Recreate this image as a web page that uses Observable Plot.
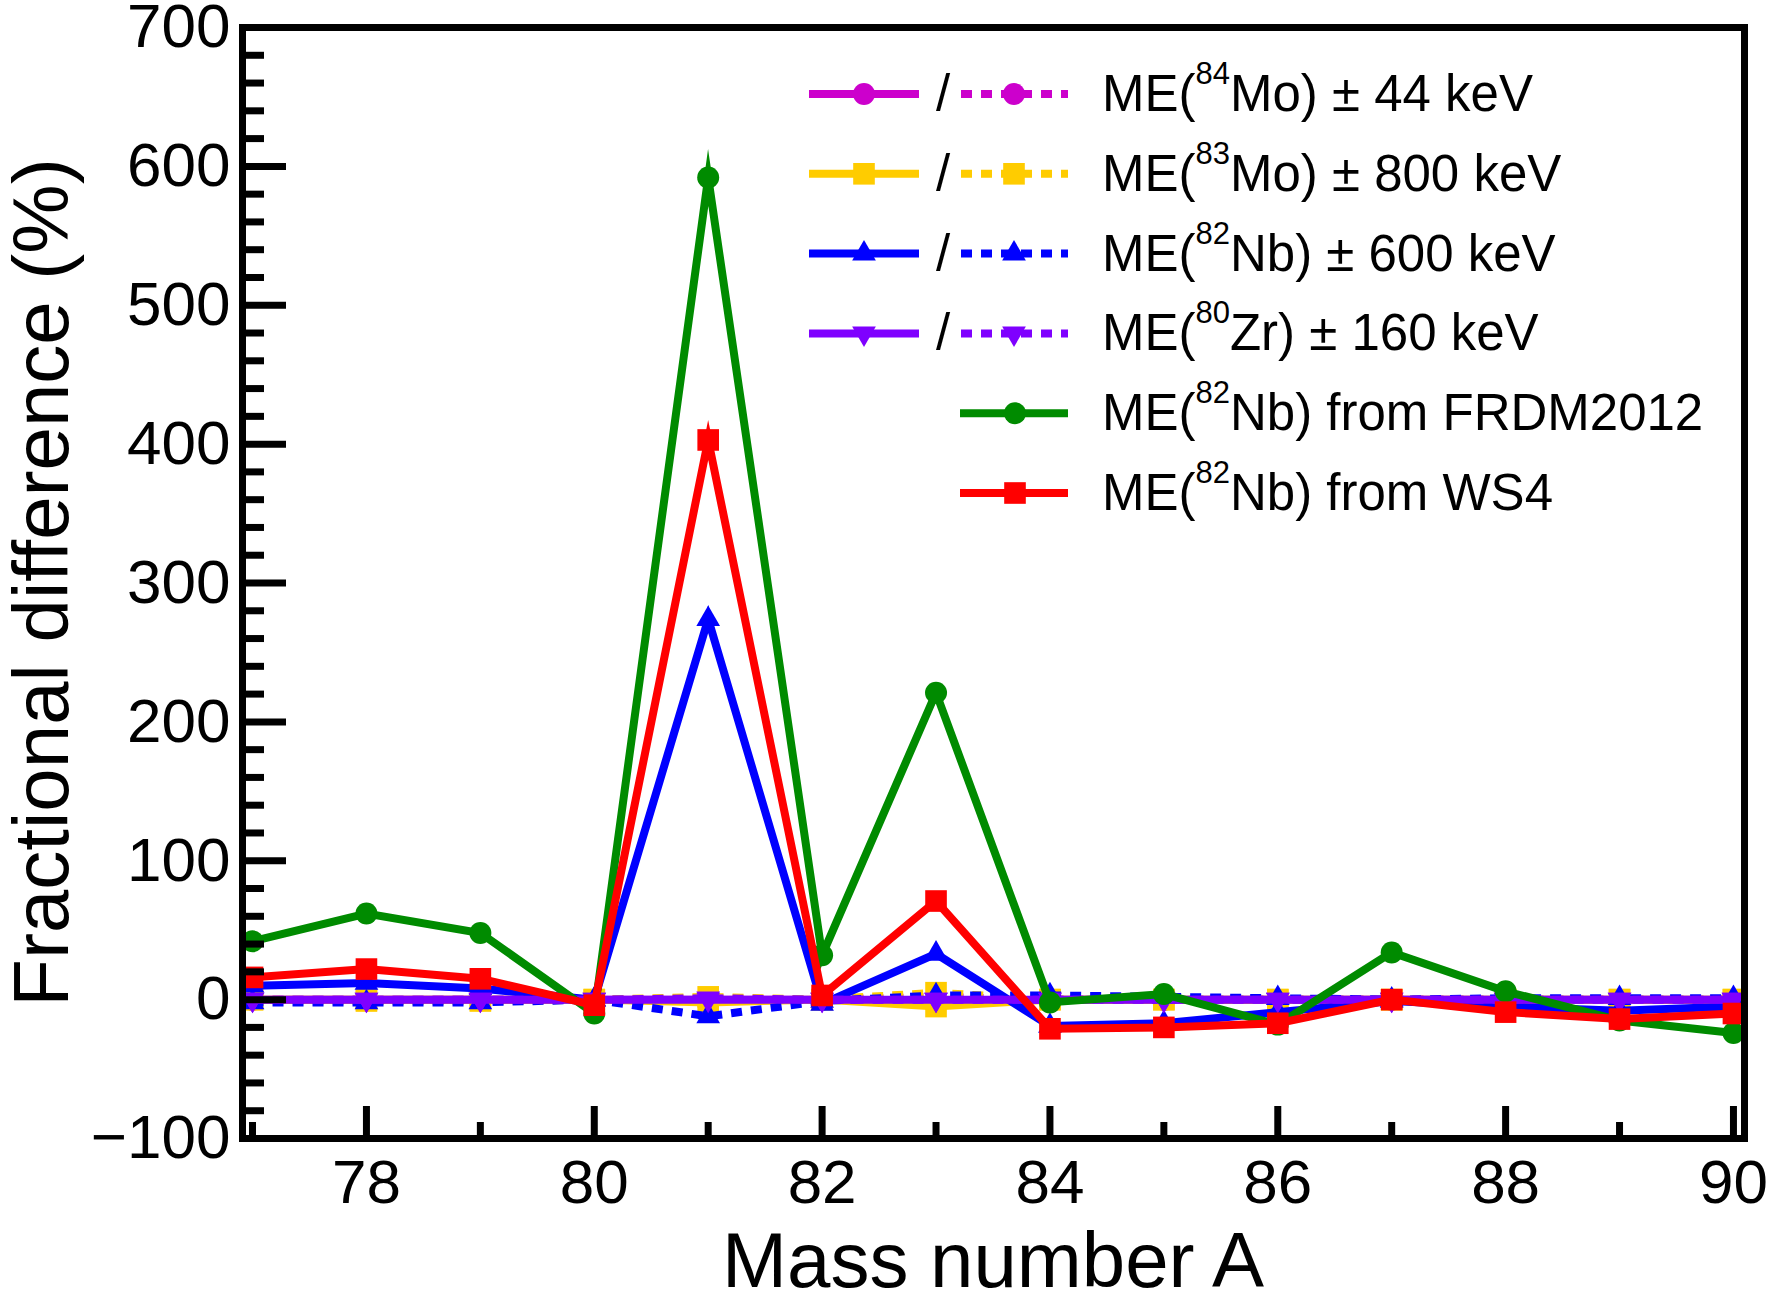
<!DOCTYPE html>
<html>
<head>
<meta charset="utf-8">
<script src="https://cdn.jsdelivr.net/npm/d3@7"></script>
<script src="https://cdn.jsdelivr.net/npm/@observablehq/plot@0.6"></script>
<style>
  body { margin: 0; background: #fff; }
  svg { display: block; }
</style>
</head>
<body>
<div id="chart"></div>
<script>
// ---------------- data ----------------
const massNumbers = [77, 78, 79, 80, 81, 82, 83, 84, 85, 86, 87, 88, 89, 90];

const mo84Plus  = [0, 0, 0, 0, 0, 0, -2, 0, 0, 0, 0, 0, 0, 0];
const mo84Minus = [0, 0, 0, 0, 0, 0, 2, 0, 0, 0, 0, 0, 0, 0];
const mo83Plus  = [0, 0, 0, 0, -2, 0, -5, 0, 0, 0, 0, 0, 0, 0];
const mo83Minus = [0, -1, -1, 0, 2, 0, 5, 0, 0, 0, 0, 0, 0, 0];
const nb82Plus  = [10, 12, 8, 0, 274, -3, 33, -19, -17, -9, -1, -5, -8, -5];
const nb82Minus = [-2, -2, -2, 0, -12, -1, 3, 3, 2, 1, 0, 1, 1, 1];
const zr80Plus  = [0, 0, 0, 0, 0, 0, 0, 0, 0, 0, 0, 0, 0, 0];
const zr80Minus = [0, 0, 0, 0, 1, 0, 0, 0, 0, 0, 0, 0, 0, 0];
const frdm2012  = [42, 62, 48, -10, 592, 32, 221, -2, 4, -18, 34, 6, -15, -24];
const ws4       = [16, 22, 15, -4, 403, 3, 71, -21, -20, -17, 0, -9, -14, -10];

const xTickLabels = [78, 80, 82, 84, 86, 88, 90];
const xMinorTicks = [77, 79, 81, 83, 85, 87, 89];
const yTickLabels = [-100, 0, 100, 200, 300, 400, 500, 600, 700];
const yMinorTicks = [-80, -60, -40, -20, 20, 40, 60, 80, 120, 140, 160, 180, 220, 240, 260, 280,
                     320, 340, 360, 380, 420, 440, 460, 480, 520, 540, 560, 580, 620, 640, 660, 680];

const legendIsotopes = ["84", "83", "82", "80", "82", "82"];
const legendBefore = ["ME(", "ME(", "ME(", "ME(", "ME(", "ME("];
const legendAfter = ["Mo) \u00b1 44 keV", "Mo) \u00b1 800 keV", "Nb) \u00b1 600 keV", "Zr) \u00b1 160 keV",
                     "Nb) from FRDM2012", "Nb) from WS4"];
const xTitle = "Mass number A";
const yTitle = "Fractional difference (%)";

// ---------------- styles ----------------
const sqrt3 = Math.sqrt(3);
const triangleDown = {
  draw(context, size) {
    const y = -Math.sqrt(size / (sqrt3 * 3));
    context.moveTo(0, -y * 2);
    context.lineTo(-sqrt3 * y, y);
    context.lineTo(sqrt3 * y, y);
    context.closePath();
  }
};
const MAGENTA = "#cc00cc", YELLOW = "#ffcc00", BLUE = "#0000ff", PURPLE = "#7f00ff", GREEN = "#008b00", RED = "#ff0000";

const series = [
  {values: mo84Plus,  color: MAGENTA, symbol: "circle", d3sym: d3.symbolCircle, r: 11, dashed: false},
  {values: mo84Minus, color: MAGENTA, symbol: "circle", d3sym: d3.symbolCircle, r: 11, dashed: true},
  {values: mo83Plus,  color: YELLOW,  symbol: "square", d3sym: d3.symbolSquare, r: 12.2, dashed: false},
  {values: mo83Minus, color: YELLOW,  symbol: "square", d3sym: d3.symbolSquare, r: 12.2, dashed: true},
  {values: nb82Plus,  color: BLUE,    symbol: "triangle", d3sym: d3.symbolTriangle, r: 8.8, dashed: false},
  {values: nb82Minus, color: BLUE,    symbol: "triangle", d3sym: d3.symbolTriangle, r: 8.8, dashed: true},
  {values: zr80Plus,  color: PURPLE,  symbol: triangleDown, d3sym: triangleDown, r: 8.8, dashed: false},
  {values: zr80Minus, color: PURPLE,  symbol: triangleDown, d3sym: triangleDown, r: 8.8, dashed: true},
  {values: frdm2012,  color: GREEN,   symbol: "circle", d3sym: d3.symbolCircle, r: 11, dashed: false},
  {values: ws4,       color: RED,     symbol: "square", d3sym: d3.symbolSquare, r: 12.2, dashed: false}
];

const W = 1771, H = 1306;
const M = {top: 27, right: 27, bottom: 168, left: 242};
const xDomain = [76.912, 90.097];
const yDomain = [-100, 700];
const pxPerX = (W - M.left - M.right) / (xDomain[1] - xDomain[0]);
const pxPerY = (H - M.top - M.bottom) / (yDomain[1] - yDomain[0]);
const LW = 8;
const DASH = "11,9";
const FONT = "'Liberation Sans', Arial, Helvetica, sans-serif";

const marks = [];
for (const s of series) {
  marks.push(Plot.line(s.values, {
    x: massNumbers, y: s.values, stroke: s.color, strokeWidth: LW,
    strokeDasharray: s.dashed ? DASH : null, strokeLinecap: "butt",
    strokeLinejoin: "miter", strokeMiterlimit: 10
  }));
  marks.push(Plot.dot(s.values, {
    x: massNumbers, y: s.values, symbol: s.symbol, r: s.r, fill: s.color, stroke: null
  }));
}

// inward ticks
marks.push(Plot.ruleX(xMinorTicks, {x: d => d, y1: yDomain[0], y2: yDomain[0] + 16 / pxPerY, stroke: "black", strokeWidth: 7}));
marks.push(Plot.ruleX(xTickLabels, {x: d => d, y1: yDomain[0], y2: yDomain[0] + 32 / pxPerY, stroke: "black", strokeWidth: 7}));
marks.push(Plot.ruleY(yMinorTicks, {y: d => d, x1: xDomain[0], x2: xDomain[0] + 22 / pxPerX, stroke: "black", strokeWidth: 7}));
marks.push(Plot.ruleY(yTickLabels, {y: d => d, x1: xDomain[0], x2: xDomain[0] + 44 / pxPerX, stroke: "black", strokeWidth: 7}));

marks.push(Plot.axisX({ticks: xTickLabels, tickSize: 0, tickPadding: 20, fontSize: 62, label: null, tickFormat: d => String(d)}));
marks.push(Plot.axisY({ticks: yTickLabels, tickSize: 0, tickPadding: 12, fontSize: 62, label: null,
  tickFormat: d => d < 0 ? "\u2212" + Math.abs(d) : String(d)}));
marks.push(Plot.frame({stroke: "black", strokeWidth: 7}));

const svg = Plot.plot({
  width: W, height: H,
  marginTop: M.top, marginRight: M.right, marginBottom: M.bottom, marginLeft: M.left,
  x: {domain: xDomain},
  y: {domain: yDomain},
  style: {fontFamily: FONT, color: "black", background: "white", overflow: "visible"},
  marks
});
document.getElementById("chart").appendChild(svg);

// ---------------- axis titles ----------------
const root = d3.select(svg);
root.append("text")
  .attr("x", (M.left + W - M.right) / 2).attr("y", 1287)
  .attr("text-anchor", "middle").attr("font-size", 78).attr("font-family", FONT).attr("fill", "black")
  .text(xTitle);
root.append("text")
  .attr("transform", `translate(68, ${(M.top + H - M.bottom) / 2}) rotate(-90)`)
  .attr("text-anchor", "middle").attr("font-size", 78).attr("font-family", FONT).attr("fill", "black")
  .text(yTitle);

// ---------------- legend ----------------
const leg = root.append("g").attr("font-family", FONT).attr("fill", "black").attr("text-anchor", "start");
const rowY = i => 94 + i * 79.8;
const legendRows = [
  {a: 0, b: 1}, {a: 2, b: 3}, {a: 4, b: 5}, {a: 6, b: 7}, {a: 8, b: null}, {a: 9, b: null}
];
legendRows.forEach((row, i) => {
  const y = rowY(i);
  const sa = series[row.a];
  const drawSwatch = (s, x0, x1, xm) => {
    leg.append("line").attr("x1", x0).attr("x2", x1).attr("y1", y).attr("y2", y)
      .attr("stroke", s.color).attr("stroke-width", LW)
      .attr("stroke-dasharray", s.dashed ? DASH : null);
    leg.append("path").attr("d", d3.symbol(s.d3sym, Math.PI * s.r * s.r)())
      .attr("transform", `translate(${xm},${y})`).attr("fill", s.color);
  };
  if (row.b !== null) {
    drawSwatch(sa, 809, 919, 864);
    leg.append("text").attr("x", 943).attr("y", y + 17).attr("text-anchor", "middle")
      .attr("font-size", 51).text("/");
    drawSwatch(series[row.b], 961, 1068, 1014);
  } else {
    drawSwatch(sa, 960, 1068, 1015);
  }
  const t = leg.append("text").attr("x", 1102).attr("y", y + 17).attr("font-size", 51).attr("text-anchor", "start");
  t.append("tspan").text(legendBefore[i]);
  t.append("tspan").attr("dy", -27).attr("font-size", 31).text(legendIsotopes[i]);
  t.append("tspan").attr("dy", 27).text(legendAfter[i]);
});
</script>
</body>
</html>
